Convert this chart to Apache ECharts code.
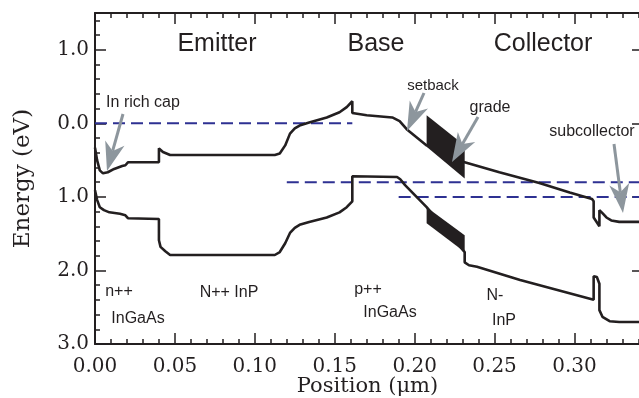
<!DOCTYPE html>
<html>
<head>
<meta charset="utf-8">
<script src="https://cdn.jsdelivr.net/npm/echarts@6/dist/echarts.min.js"></script>
<style>
html, body { margin: 0; padding: 0; background: #fff; }
#band { width: 639px; height: 398px; }
</style>
</head>
<body>
<div id="band"></div>
<script>
// conduction band edge: position (um) / energy (eV, drawn downward)
var cbPos = [0, 0.0013, 0.003, 0.005, 0.008, 0.009, 0.012, 0.0125, 0.017, 0.019, 0.0206, 0.04, 0.04, 0.0425, 0.047,
    0.1125, 0.1156, 0.119, 0.122, 0.125, 0.128, 0.134, 0.145, 0.153, 0.1575, 0.161, 0.161, 0.17, 0.186, 0.1906, 0.195,
    0.2075, 0.2313, 0.253, 0.278, 0.297, 0.311, 0.312, 0.312, 0.3156, 0.3156, 0.3175, 0.32, 0.323, 0.328, 0.341];
var cbEnergy = [0.33, 0.50, 0.64, 0.68, 0.665, 0.64, 0.62, 0.60, 0.58, 0.57, 0.53, 0.53, 0.34, 0.39, 0.43,
    0.43, 0.41, 0.30, 0.14, 0.07, 0.03, -0.01, -0.08, -0.15, -0.22, -0.30, -0.14, -0.11, -0.08, -0.03, 0.08,
    0.30, 0.53, 0.665, 0.81, 0.94, 1.03, 1.06, 1.28, 1.40, 1.18, 1.22, 1.28, 1.32, 1.34, 1.34];

// valence band edge
var vbPos = [0, 0.0013, 0.003, 0.0056, 0.009, 0.0156, 0.019, 0.0206, 0.04, 0.04, 0.041, 0.044, 0.047,
    0.1125, 0.1156, 0.119, 0.122, 0.125, 0.128, 0.134, 0.145, 0.153, 0.1575, 0.161, 0.161, 0.189, 0.191, 0.194,
    0.2075, 0.2313, 0.2313, 0.234, 0.239, 0.266, 0.312, 0.312, 0.314, 0.3156, 0.3156, 0.3175, 0.322, 0.328, 0.341];
var vbEnergy = [0.91, 1.04, 1.14, 1.18, 1.21, 1.23, 1.25, 1.29, 1.30, 1.59, 1.68, 1.74, 1.79,
    1.79, 1.75, 1.63, 1.49, 1.42, 1.38, 1.34, 1.28, 1.21, 1.14, 1.06, 0.72, 0.73, 0.76, 0.84,
    1.14, 1.75, 1.89, 1.93, 1.95, 2.13, 2.40, 2.08, 2.09, 2.18, 2.54, 2.63, 2.69, 2.70, 2.70];

// graded region (superlattice), filled
var gradeCbPos = [0.2075, 0.2313, 0.2313, 0.2075];
var gradeCbEnergy = [-0.11, 0.30, 0.75, 0.32];
var gradeVbPos = [0.2075, 0.2313, 0.2313, 0.2075];
var gradeVbEnergy = [1.14, 1.52, 1.75, 1.36];

// quasi fermi levels (start, end, energy)
var fermiStart = [0, 0.12, 0.19];
var fermiEnd = [0.161, 0.341, 0.341];
var fermiEnergy = [0.0, 0.80, 1.00];

var xTicks = [0, 0.05, 0.10, 0.15, 0.20, 0.25, 0.30];
var yTicks = [-1, 0, 1, 2, 3];
var xMin = 0, xMax = 0.341;
var yMin = -1.5, yMax = 3.0;

var ink = '#231f20';
var gray = '#8d969d';
var serif = 'DejaVu Serif';
var sans = 'Liberation Sans';

var xMinor = [];
for (var i = 1; i <= 34; i++) { if (i % 5) xMinor.push(i / 100); }
var yMinor = [];
for (var j = -7; j <= 14; j++) { if (j % 5) yMinor.push(j / 5); }

function zip(a, b) {
    return a.map(function (v, k) { return [v, b[k]]; });
}

function xAxisDef(pos, ticks, len, main) {
    return {
        type: 'value', position: pos, min: xMin, max: xMax,
        axisLine: { show: main, onZero: false, lineStyle: { color: ink, width: 2 } },
        axisTick: { show: true, inside: true, length: len, customValues: ticks, lineStyle: { color: ink, width: 1.5 } },
        axisLabel: { show: false },
        splitLine: { show: false }
    };
}
function yAxisDef(pos, ticks, len, main) {
    return {
        type: 'value', position: pos, min: yMin, max: yMax, inverse: true,
        axisLine: { show: main, onZero: false, lineStyle: { color: ink, width: 2 } },
        axisTick: { show: true, inside: true, length: len, customValues: ticks, lineStyle: { color: ink, width: 1.5 } },
        axisLabel: { show: false },
        splitLine: { show: false }
    };
}

var xBottom = xAxisDef('bottom', xTicks, 11, true);
xBottom.axisLabel = {
    show: true, customValues: xTicks, margin: 13,
    fontFamily: serif, fontSize: 20, color: ink,
    formatter: function (v) { return v.toFixed(2); }
};
xBottom.name = 'Position (\u03bcm)';
xBottom.nameLocation = 'middle';
xBottom.nameGap = 32;
xBottom.nameMoveOverlap = false;
xBottom.nameTextStyle = { fontFamily: serif, fontSize: 21, color: ink };

var yLeft = yAxisDef('left', yTicks, 11, true);
yLeft.axisLabel = {
    show: true, customValues: yTicks, margin: 6,
    fontFamily: serif, fontSize: 20, color: ink,
    formatter: function (v) { return Math.abs(v).toFixed(1); }
};
yLeft.name = 'Energy (eV)';
yLeft.nameLocation = 'middle';
yLeft.nameGap = 60;
yLeft.nameMoveOverlap = false;
yLeft.nameTextStyle = { fontFamily: serif, fontSize: 23, color: ink };

function gradeSeries(pos, en) {
    return {
        type: 'custom',
        coordinateSystem: 'cartesian2d',
        silent: true,
        z: 4,
        data: [[pos[0], en[0]]],
        renderItem: function (params, api) {
            var pts = pos.map(function (p, k) { return api.coord([p, en[k]]); });
            return { type: 'polygon', shape: { points: pts }, style: { fill: ink } };
        }
    };
}

var series = [
    {
        name: 'Ec', type: 'line', data: zip(cbPos, cbEnergy), showSymbol: false, z: 3,
        lineStyle: { color: ink, width: 2.6 }
    },
    {
        name: 'Ev', type: 'line', data: zip(vbPos, vbEnergy), showSymbol: false, z: 3,
        lineStyle: { color: ink, width: 2.6 }
    },
    gradeSeries(gradeCbPos, gradeCbEnergy),
    gradeSeries(gradeVbPos, gradeVbEnergy)
];
fermiEnergy.forEach(function (e, k) {
    series.push({
        type: 'line', data: [[fermiStart[k], e], [fermiEnd[k], e]], showSymbol: false, z: 2,
        lineStyle: { color: '#2e3192', width: 2, type: [12, 6] }
    });
});

// labels and arrows
var notes = [
    ['Emitter', 217, 44, 25], ['Base', 376, 44, 25], ['Collector', 543, 44, 25],
    ['In rich cap', 143, 103, 16], ['setback', 433, 86, 15], ['grade', 490, 108, 16], ['subcollector', 592, 132, 16],
    ['n++', 119, 292, 16], ['InGaAs', 138, 319, 16], ['N++ InP', 229, 293, 16],
    ['p++', 368, 290, 16], ['InGaAs', 390, 313, 16], ['N-', 495, 296, 16], ['InP', 504, 321, 16]
];
var graphics = notes.map(function (n) {
    return {
        type: 'text', x: n[1], y: n[2], z: 10,
        style: { text: n[0], font: n[3] + 'px "' + sans + '"', fill: ink, textAlign: 'center', textVerticalAlign: 'middle' }
    };
});

function arrow(x1, y1, x2, y2) {
    var dx = x2 - x1, dy = y2 - y1, len = Math.sqrt(dx * dx + dy * dy);
    var ux = dx / len, uy = dy / len, nx = -uy, ny = ux;
    var hl = 29, hw = 10;
    var bx = x2 - ux * hl, by = y2 - uy * hl;
    var mx = x2 - ux * hl * 0.72, my = y2 - uy * hl * 0.72;
    return [
        { type: 'line', z: 10, shape: { x1: x1, y1: y1, x2: mx, y2: my }, style: { stroke: gray, lineWidth: 3 } },
        { type: 'polygon', z: 10, shape: { points: [[x2, y2], [bx + nx * hw, by + ny * hw], [mx, my], [bx - nx * hw, by - ny * hw]] }, style: { fill: gray } }
    ];
}
graphics = graphics.concat(arrow(123, 114, 107, 171), arrow(424, 93, 407, 131),
    arrow(478, 117, 452, 162), arrow(614, 144, 623, 213));

var myChart = echarts.init(document.getElementById('band'));
var option = {
    animation: false,
    backgroundColor: '#fff',
    grid: { left: 95, top: 13, right: -1, bottom: 54, outerBoundsMode: 'none', containLabel: false },
    xAxis: [
        xBottom,
        xAxisDef('bottom', xMinor, 5, false),
        xAxisDef('top', xTicks, 11, true),
        xAxisDef('top', xMinor, 5, false)
    ],
    yAxis: [
        yLeft,
        yAxisDef('left', yMinor, 5, false),
        yAxisDef('right', yTicks, 8, true)
    ],
    series: series,
    graphic: graphics
};
myChart.setOption(option, true);
</script>
</body>
</html>
